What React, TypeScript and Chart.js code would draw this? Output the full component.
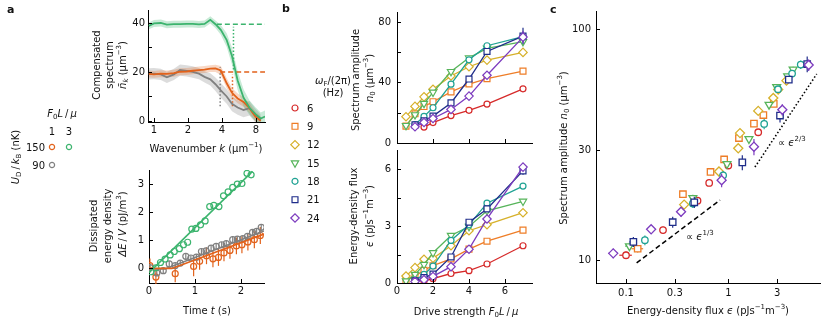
import React, { useEffect, useRef } from 'react';
import { Chart, registerables } from 'chart.js';

Chart.register(...registerables);

const FAMILY = 'DejaVu Sans';
Chart.defaults.font.family = FAMILY;
Chart.defaults.font.size = 10;
Chart.defaults.color = '#000';

const W = 830;
const H = 325;
const YAXW = 40;
const XAXH = 22;

// ---------------- Panel a (top): compensated spectrum ----------------
const kGrid = [0.9, 1.0, 1.15, 1.3, 1.5, 1.7, 1.95, 2.2, 2.5, 2.8, 3.15, 3.5, 3.9, 4.4, 4.9, 5.5, 6.2, 7.0, 7.9, 8.8, 9.6];
const specGreen = [38.8, 39.8, 40.0, 39.3, 39.5, 39.5, 39.6, 39.6, 39.4, 39.6, 41.3, 39.5, 37.2, 33.0, 26.5, 16.5, 9.5, 5.4, 2.8, 1.0, 1.8];
const specGreenErr = [1.4, 1.4, 1.4, 1.4, 1.4, 1.4, 1.4, 1.4, 1.4, 1.4, 1.5, 1.5, 2.0, 2.8, 3.5, 3.8, 3.5, 3.0, 2.8, 2.5, 2.5];
const specOrange = [19.2, 19.0, 19.3, 19.2, 19.5, 20.1, 20.2, 20.5, 20.8, 21.0, 21.4, 21.5, 20.6, 15.4, 11.5, 9.2, 7.8, 5.2, 1.8, 0.1, null];
const specOrangeErr = [1.4, 1.4, 1.4, 1.4, 1.4, 1.4, 1.4, 1.4, 1.4, 1.4, 1.4, 1.5, 1.8, 2.0, 2.0, 2.0, 2.0, 2.0, 2.0, 1.8, null];
const specGray = [19.2, 19.3, 19.0, 17.8, 19.0, 20.8, 20.5, 20.0, 19.3, 18.0, 17.0, 15.0, 12.5, 10.0, 7.0, 5.5, 4.5, 5.2, 2.2, 0.2, null];
const specGrayErr = [2.3, 2.3, 2.3, 2.3, 2.3, 2.3, 2.3, 2.3, 2.3, 2.3, 2.5, 2.8, 3.0, 3.0, 3.0, 3.0, 3.0, 3.0, 2.8, 2.5, null];
const plateauGreen = 39.5;
const plateauGreenK = [3.6, 9.6];
const plateauOrange = 20;
const plateauOrangeK = [3.85, 9.6];
const cutGreenK = 5.05;
const cutGreenRange = [21, 38.5];
const cutOrangeK = 4.95;
const cutOrangeRange = [6, 19];
const cutGrayK = 3.85;
const cutGrayRange = [6, 22];

// ---------------- Panel a (bottom): dissipated energy ----------------
const tGreen = [0.04, 0.15, 0.25, 0.35, 0.46, 0.55, 0.66, 0.75, 0.84, 0.93, 1.02, 1.12, 1.22, 1.32, 1.41, 1.52, 1.62, 1.72, 1.82, 1.92, 2.02, 2.13, 2.22];
const eGreen = [-0.12, 0.02, 0.21, 0.33, 0.48, 0.6, 0.7, 0.84, 0.93, 1.4, 1.42, 1.55, 1.69, 2.2, 2.24, 2.2, 2.58, 2.72, 2.88, 3.0, 3.02, 3.38, 3.33];
const tGray = [0.02, 0.17, 0.31, 0.44, 0.57, 0.68, 0.8, 0.91, 1.03, 1.14, 1.24, 1.35, 1.46, 1.58, 1.68, 1.82, 1.92, 2.04, 2.14, 2.25, 2.34, 2.44];
const eGray = [0.03, -0.16, -0.08, 0.16, 0.1, 0.19, 0.43, 0.37, 0.4, 0.6, 0.62, 0.72, 0.78, 0.84, 0.88, 1.02, 1.04, 1.06, 1.14, 1.28, 1.32, 1.46];
const eGrayErr = [0.1, 0.1, 0.1, 0.1, 0.1, 0.1, 0.12, 0.1, 0.1, 0.1, 0.1, 0.1, 0.1, 0.1, 0.1, 0.12, 0.1, 0.1, 0.1, 0.12, 0.1, 0.12];
const tOrange = [0.02, 0.15, 0.57, 0.97, 1.1, 1.25, 1.39, 1.51, 1.63, 1.76, 1.9, 2.02, 2.15, 2.29, 2.42];
const eOrange = [0.1, -0.31, -0.19, 0.07, 0.25, 0.45, 0.34, 0.39, 0.55, 0.64, 0.8, 0.84, 0.94, 1.02, 1.17];
const eOrangeErr = [0.25, 0.25, 0.3, 0.35, 0.3, 0.3, 0.3, 0.3, 0.3, 0.3, 0.3, 0.3, 0.3, 0.3, 0.3];
const fitGreenT = [0, 2.25];
const fitGreenE = [-0.15, 3.45];
const fitOrangeT = [0, 0.5, 2.5];
const fitOrangeE = [0, 0, 1.22];
const fitGrayT = [0, 0.35, 2.5];
const fitGrayE = [-0.02, -0.02, 1.33];

// ---------------- Panels b, c ----------------
const driveStrength = [0.5, 1, 1.5, 2, 3, 4, 5, 7];
const freqLabels = ['6', '9', '12', '15', '18', '21', '24'];
const n0_6 = [null, null, 10.5, 13.5, 18.1, 21.6, 25.7, 35.8];
const n0_9 = [11.2, 19.3, 24.1, 27.3, 33.8, 39.0, 42.5, 47.5];
const n0_12 = [17.4, 24.2, 30.5, 35.5, 44.3, 50.4, 54.8, 59.9];
const n0_15 = [11.5, 18.6, 26.1, 33.5, 47.2, 56.3, 62.6, 67.0];
const n0_18 = [null, 12.2, 17.6, 23.3, 38.9, 55.0, 64.3, 70.3];
const n0_21 = [null, 12.0, 14.6, 17.8, 26.5, 42.3, 60.5, 70.7];
const n0_24 = [null, 10.7, 13.6, 16.2, 22.2, 31.0, 44.8, 70.0];
const eps_6 = [null, null, 0.1, 0.23, 0.5, 0.65, 1.0, 1.96];
const eps_9 = [0.13, 0.36, 0.67, 0.91, 1.27, 1.78, 2.2, 2.78];
const eps_12 = [0.37, 0.81, 1.25, 1.3, 1.96, 2.75, 3.07, 3.7];
const eps_15 = [0.108, 0.45, 0.97, 1.59, 2.5, 2.97, 3.8, 4.3];
const eps_18 = [null, 0.153, 0.45, 0.89, 2.24, 3.06, 4.2, 5.1];
const eps_21 = [null, 0.118, 0.286, 0.465, 1.37, 3.2, 3.9, 5.9];
const eps_24 = [null, 0.075, 0.176, 0.345, 0.86, 1.78, 3.37, 6.1];
const n0Err_6 = [0, 0, 0.4, 0.5, 0.6, 0.7, 0.8, 1.0];
const n0Err_9 = [0.4, 0.6, 0.8, 0.8, 1.0, 1.0, 1.2, 1.2];
const n0Err_12 = [0.5, 0.7, 0.8, 1.0, 1.0, 1.2, 1.2, 1.4];
const n0Err_15 = [0.4, 0.6, 0.8, 1.0, 1.2, 1.4, 1.5, 1.8];
const n0Err_18 = [0, 0.6, 0.8, 1.0, 2.0, 2.0, 2.2, 3.0];
const n0Err_21 = [0, 0.6, 0.8, 1.0, 2.0, 2.8, 2.0, 5.5];
const n0Err_24 = [0, 0.5, 0.6, 0.8, 1.5, 2.5, 2.5, 4.0];
const epsErr_6 = [0, 0, 0.014, 0.01, 0.01, 0.02, 0.03, 0.05];
const epsErr_9 = [0.017, 0.01, 0.01, 0.02, 0.03, 0.04, 0.05, 0.06];
const epsErr_12 = [0.01, 0.02, 0.02, 0.03, 0.04, 0.05, 0.06, 0.08];
const epsErr_15 = [0.01, 0.01, 0.02, 0.03, 0.05, 0.06, 0.08, 0.1];
const epsErr_18 = [0, 0.01, 0.01, 0.02, 0.05, 0.06, 0.08, 0.12];
const epsErr_21 = [0, 0.01, 0.01, 0.02, 0.04, 0.08, 0.1, 0.2];
const epsErr_24 = [0, 0.008, 0.01, 0.02, 0.03, 0.05, 0.1, 0.2];
const law13Eps = [0.127, 0.83];
const law13N0 = [9.73, 18.2];
const law23Eps = [1.82, 7.31];
const law23N0 = [25.3, 64];

const seriesN0 = [n0_6, n0_9, n0_12, n0_15, n0_18, n0_21, n0_24];
const seriesEps = [eps_6, eps_9, eps_12, eps_15, eps_18, eps_21, eps_24];
const seriesN0Err = [n0Err_6, n0Err_9, n0Err_12, n0Err_15, n0Err_18, n0Err_21, n0Err_24];
const seriesEpsErr = [epsErr_6, epsErr_9, epsErr_12, epsErr_15, epsErr_18, epsErr_21, epsErr_24];

// ---------------- styles ----------------
const cGreen = '#3cb46e';
const cOrange = '#e2621b';
const cGray = '#808080';
const seriesColors = ['#d62a2a', '#ee7d27', '#d6b02a', '#56b45a', '#1fa293', '#1f2d8a', '#7d3cbf'];
const seriesStyles = ['circle', 'rect', 'rectRot', 'triangle', 'circle', 'rect', 'rectRot'];
const seriesRot = [0, 0, 0, 180, 0, 0, 0];
const markerR: Record<string, number> = { circle: 3, rect: 4.2, rectRot: 4.2, triangle: 4.2 };

function pad(l: number, t: number, r: number, b: number) {
  return { left: l - YAXW, top: t, right: W - r, bottom: H - b - XAXH };
}

function axis(pos: 'x' | 'y', type: string, min: number, max: number, ticks: number[], labels: Record<string, string>, padding: number) {
  return {
    type,
    min,
    max,
    bounds: 'data',
    position: pos === 'x' ? 'bottom' : 'left',
    grid: { display: false, drawTicks: false },
    border: { display: true, color: '#000', width: 1 },
    ticks: {
      color: '#111',
      font: { size: 10, family: FAMILY },
      padding,
      autoSkip: false,
      maxRotation: 0,
      minRotation: 0,
      callback: (v: any) => labels[String(v)] ?? '',
    },
    afterBuildTicks: (s: any) => {
      s.ticks = ticks.map((v) => ({ value: v }));
    },
    afterFit: (s: any) => {
      if (pos === 'x') s.height = XAXH;
      else s.width = YAXW;
    },
  };
}

const inTicks = {
  id: 'inTicks',
  afterDraw(chart: any, _a: any, opts: any) {
    const ctx = chart.ctx;
    const a = chart.chartArea;
    ctx.save();
    ctx.strokeStyle = '#000';
    ctx.lineWidth = 1;
    (opts.x || []).forEach((v: number) => {
      const px = Math.round(chart.scales.x.getPixelForValue(v)) + 0.5;
      ctx.beginPath();
      ctx.moveTo(px, a.bottom);
      ctx.lineTo(px, a.bottom - 4);
      ctx.stroke();
    });
    (opts.y || []).forEach((v: number) => {
      const py = Math.round(chart.scales.y.getPixelForValue(v)) + 0.5;
      ctx.beginPath();
      ctx.moveTo(a.left, py);
      ctx.lineTo(a.left + 4, py);
      ctx.stroke();
    });
    ctx.restore();
  },
};

const errBars = {
  id: 'errBars',
  beforeDatasetDraw(chart: any, args: any) {
    const ds = chart.data.datasets[args.index];
    if (!ds.errBars) return;
    const xs = chart.scales[args.meta.xAxisID];
    const ys = chart.scales[args.meta.yAxisID];
    const ctx = chart.ctx;
    ctx.save();
    ctx.strokeStyle = ds.errColor || ds.borderColor;
    ctx.lineWidth = 1.2;
    ds.data.forEach((p: any) => {
      const px = xs.getPixelForValue(p.x);
      const py = ys.getPixelForValue(p.y);
      if (p.ey) {
        ctx.beginPath();
        ctx.moveTo(px, ys.getPixelForValue(p.y - p.ey));
        ctx.lineTo(px, ys.getPixelForValue(p.y + p.ey));
        ctx.stroke();
      }
      if (p.ex) {
        ctx.beginPath();
        ctx.moveTo(xs.getPixelForValue(p.x - p.ex), py);
        ctx.lineTo(xs.getPixelForValue(p.x + p.ex), py);
        ctx.stroke();
      }
    });
    ctx.restore();
  },
};

type Seg = { t: string; i?: boolean; sup?: boolean; sub?: boolean; b?: boolean };
const R = (t: string): Seg => ({ t });
const I = (t: string): Seg => ({ t, i: true });
const SUP = (t: string): Seg => ({ t, sup: true });
const SUB = (t: string): Seg => ({ t, sub: true });
const TS = '\u2009';

function drawRich(ctx: any, segs: Seg[], x: number, y: number, size: number, align: string, rot: boolean) {
  ctx.save();
  ctx.translate(x, y);
  if (rot) ctx.rotate(-Math.PI / 2);
  const fonts = segs.map((s) => `${s.i ? 'italic ' : ''}${s.b ? 'bold ' : ''}${s.sup || s.sub ? size * 0.7 : size}px "${FAMILY}"`);
  const widths = segs.map((s, k) => {
    ctx.font = fonts[k];
    return ctx.measureText(s.t).width;
  });
  const total = widths.reduce((a, b) => a + b, 0);
  let cx = align === 'left' ? 0 : align === 'right' ? -total : -total / 2;
  ctx.fillStyle = '#111';
  ctx.textAlign = 'left';
  ctx.textBaseline = 'alphabetic';
  const base = size * 0.36;
  segs.forEach((s, k) => {
    ctx.font = fonts[k];
    const dy = s.sup ? -size * 0.42 : s.sub ? size * 0.22 : 0;
    ctx.fillText(s.t, cx, base + dy);
    cx += widths[k];
  });
  ctx.restore();
}

function drawMarker(ctx: any, style: string, x: number, y: number, r: number, color: string, rotDeg: number, fill: string) {
  ctx.save();
  ctx.translate(x, y);
  ctx.rotate((rotDeg * Math.PI) / 180);
  ctx.beginPath();
  if (style === 'circle') ctx.arc(0, 0, r, 0, Math.PI * 2);
  else if (style === 'rect') {
    const s = r * Math.SQRT1_2;
    ctx.rect(-s, -s, 2 * s, 2 * s);
  } else if (style === 'rectRot') {
    ctx.moveTo(-r, 0);
    ctx.lineTo(0, -r);
    ctx.lineTo(r, 0);
    ctx.lineTo(0, r);
    ctx.closePath();
  } else if (style === 'triangle') {
    for (let k = 0; k < 3; k++) {
      const a = (k * 2 * Math.PI) / 3;
      const px = Math.sin(a) * r;
      const py = -Math.cos(a) * r;
      if (k === 0) ctx.moveTo(px, py);
      else ctx.lineTo(px, py);
    }
    ctx.closePath();
  }
  ctx.fillStyle = fill;
  ctx.fill();
  ctx.strokeStyle = color;
  ctx.lineWidth = 1.2;
  ctx.stroke();
  ctx.restore();
}

const legendY = [108, 126.3, 144.7, 163, 181.3, 199.7, 218];

const TEXTS: { s: Seg[]; x: number; y: number; a?: string; rot?: boolean; size?: number }[] = [
  { s: [{ t: 'a', b: true }], x: 7, y: 9, a: 'left', size: 11 },
  { s: [{ t: 'b', b: true }], x: 282, y: 8, a: 'left', size: 11 },
  { s: [{ t: 'c', b: true }], x: 550, y: 9, a: 'left', size: 11 },
  { s: [R('Compensated')], x: 96, y: 65, rot: true },
  { s: [R('spectrum')], x: 109, y: 65, rot: true },
  { s: [I('n\u0304'), { t: 'k', i: true, sub: true }, R(' (μm'), SUP('−3'), R(')')], x: 122, y: 65, rot: true },
  { s: [R('Wavenumber '), I('k'), R(' (μm'), SUP('−1'), R(')')], x: 206, y: 148 },
  { s: [R('Dissipated')], x: 93, y: 226, rot: true },
  { s: [R('energy density')], x: 107, y: 226, rot: true },
  { s: [I('ΔE'), R(TS + '/' + TS), I('V'), R(' (pJ/m'), SUP('3'), R(')')], x: 122, y: 224, rot: true },
  { s: [R('Time '), I('t'), R(' (s)')], x: 207, y: 310 },
  { s: [I('F'), SUB('0'), I('L'), R(TS + '/' + TS), I('μ')], x: 62, y: 113 },
  { s: [R('1')], x: 52, y: 131 },
  { s: [R('3')], x: 69, y: 131 },
  { s: [R('150')], x: 45, y: 147, a: 'right' },
  { s: [R('90')], x: 45, y: 165, a: 'right' },
  { s: [I('U'), SUB('D'), R(TS + '/' + TS), I('k'), SUB('B'), R(' (nK)')], x: 15, y: 157, rot: true },
  { s: [I('ω'), SUB('F'), R('/(2π)')], x: 333, y: 80 },
  { s: [R('(Hz)')], x: 333, y: 92 },
  { s: [R('Spectrum amplitude')], x: 355, y: 80, rot: true },
  { s: [I('n'), SUB('0'), R(' (μm'), SUP('−3'), R(')')], x: 369, y: 78, rot: true },
  { s: [R('Energy-density flux')], x: 353, y: 216, rot: true },
  { s: [I('ϵ'), R(' (pJs'), SUP('−1'), R('m'), SUP('−3'), R(')')], x: 369, y: 216, rot: true },
  { s: [R('Drive strength '), I('F'), SUB('0'), I('L'), R(TS + '/' + TS), I('μ')], x: 466, y: 311 },
  { s: [R('Spectrum amplitude '), I('n'), SUB('0'), R(' (μm'), SUP('−3'), R(')')], x: 563, y: 148, rot: true },
  { s: [R('Energy-density flux '), I('ϵ'), R(' (pJs'), SUP('−1'), R('m'), SUP('−3'), R(')')], x: 708, y: 310 },
  { s: [R('∝ '), I('ϵ'), SUP('1/3')], x: 686, y: 236, a: 'left' },
  { s: [R('∝ '), I('ϵ'), SUP('2/3')], x: 778, y: 142, a: 'left' },
];

const overlay = {
  id: 'overlay',
  afterDraw(chart: any) {
    const ctx = chart.ctx;
    TEXTS.forEach((t) => drawRich(ctx, t.s, t.x, t.y, t.size || 10, t.a || 'center', !!t.rot));
    freqLabels.forEach((lab, s) => {
      drawRich(ctx, [R(lab)], 307, legendY[s], 10, 'left', false);
      drawMarker(ctx, seriesStyles[s], 295, legendY[s], markerR[seriesStyles[s]], seriesColors[s], seriesRot[s], '#fff');
    });
    drawMarker(ctx, 'circle', 52, 147, 2.6, cOrange, 0, '#fff');
    drawMarker(ctx, 'circle', 69, 147, 2.6, cGreen, 0, '#fff');
    drawMarker(ctx, 'circle', 52, 165, 2.6, cGray, 0, '#fff');
  },
};

const xy = (xs: number[], ys: (number | null)[]) =>
  xs.map((x, i) => (ys[i] == null ? null : { x, y: ys[i] as number })).filter(Boolean) as any[];
const band = (xs: number[], ys: (number | null)[], es: (number | null)[], sign: number) =>
  xs.map((x, i) => (ys[i] == null ? null : { x, y: (ys[i] as number) + sign * (es[i] as number) })).filter(Boolean) as any[];

function line(data: any[], color: string, width: number, dash: number[] = []) {
  return { data, borderColor: color, borderWidth: width, borderDash: dash, pointRadius: 0, fill: false, tension: 0 };
}

function common(area: number[], scales: any, ticksOpt: any) {
  return {
    responsive: false,
    animation: false,
    events: [],
    layout: { padding: pad(area[0], area[1], area[2], area[3]) },
    scales,
    plugins: { legend: { display: false }, tooltip: { enabled: false }, inTicks: ticksOpt },
  };
}

function cfgA1(): any {
  const datasets: any[] = [
    line(xy(kGrid, specGreen), cGreen, 1.8),
    line(xy(kGrid, specOrange), cOrange, 1.8),
    line(xy(kGrid, specGray), cGray, 1.8),
    line(plateauGreenK.map((k) => ({ x: k, y: plateauGreen })), cGreen, 1.5, [5, 3]),
    line(plateauOrangeK.map((k) => ({ x: k, y: plateauOrange })), cOrange, 1.5, [5, 3]),
    line(cutGreenRange.map((v) => ({ x: cutGreenK, y: v })), cGreen, 1.5, [1.5, 2]),
    line(cutOrangeRange.map((v) => ({ x: cutOrangeK, y: v })), cOrange, 1.5, [1.5, 2]),
    line(cutGrayRange.map((v) => ({ x: cutGrayK, y: v })), cGray, 1.5, [1.5, 2]),
    { ...line(band(kGrid, specGreen, specGreenErr, 1), cGreen, 0), fill: 9, backgroundColor: 'rgba(60,180,110,0.28)' },
    line(band(kGrid, specGreen, specGreenErr, -1), cGreen, 0),
    { ...line(band(kGrid, specOrange, specOrangeErr, 1), cOrange, 0), fill: 11, backgroundColor: 'rgba(226,98,27,0.25)' },
    line(band(kGrid, specOrange, specOrangeErr, -1), cOrange, 0),
    { ...line(band(kGrid, specGray, specGrayErr, 1), cGray, 0), fill: 13, backgroundColor: 'rgba(128,128,128,0.28)' },
    line(band(kGrid, specGray, specGrayErr, -1), cGray, 0),
  ];
  return {
    type: 'line',
    data: { datasets },
    options: common(
      [148, 10, 265, 122],
      {
        x: axis('x', 'logarithmic', 0.885, 9.6, [1, 2, 4, 8], { '1': '1', '2': '2', '4': '4', '8': '8' }, 2),
        y: axis('y', 'linear', -0.41, 45.3, [0, 10, 20, 30, 40], { '0': '0', '20': '20', '40': '40' }, 3),
      },
      { x: [1, 2, 4, 8], y: [0, 10, 20, 30, 40] }
    ),
    plugins: [inTicks],
  };
}

function scatterDs(data: any[], color: string, r: number) {
  return {
    data,
    showLine: false,
    borderColor: color,
    pointStyle: 'circle',
    pointRadius: r,
    pointBorderWidth: 1.2,
    pointBorderColor: color,
    pointBackgroundColor: 'rgba(255,255,255,0)',
    errBars: true,
  };
}

function cfgA2(): any {
  const datasets: any[] = [
    line(xy(fitGreenT, fitGreenE), cGreen, 1.6),
    line(xy(fitOrangeT, fitOrangeE), cOrange, 1.6),
    line(xy(fitGrayT, fitGrayE), cGray, 1.6),
    scatterDs(xy(tGreen, eGreen), cGreen, 3),
    scatterDs(tGray.map((t, i) => ({ x: t, y: eGray[i], ey: eGrayErr[i] })), cGray, 3),
    scatterDs(tOrange.map((t, i) => ({ x: t, y: eOrange[i], ey: eOrangeErr[i] })), cOrange, 3),
  ];
  return {
    type: 'line',
    data: { datasets },
    options: common(
      [149, 170, 264, 283],
      {
        x: axis('x', 'linear', 0, 2.5, [0, 1, 2], { '0': '0', '1': '1', '2': '2' }, 2),
        y: axis('y', 'linear', -0.52, 3.5, [0, 1, 2, 3], { '0': '0', '1': '1', '2': '2', '3': '3' }, 5),
      },
      { x: [0, 1, 2], y: [0, 1, 2, 3] }
    ),
    plugins: [inTicks, errBars],
  };
}

function bDatasets(vals: (number | null)[][], errs: number[][]) {
  const out: any[] = [];
  for (let s = vals.length - 1; s >= 0; s--) {
    const data: any[] = [];
    driveStrength.forEach((x, i) => {
      const y = vals[s][i];
      if (y != null) data.push({ x, y, ey: errs[s][i] });
    });
    const st = seriesStyles[s];
    out.push({
      data,
      borderColor: seriesColors[s],
      borderWidth: 1.3,
      pointStyle: st,
      pointRotation: seriesRot[s],
      pointRadius: markerR[st],
      pointBorderWidth: 1.2,
      pointBorderColor: seriesColors[s],
      pointBackgroundColor: '#fff',
      fill: false,
      tension: 0,
      errBars: true,
    });
  }
  return out;
}

function cfgB1(): any {
  const errsVisible = seriesN0Err.map((arr) => arr.map((e) => (e >= 3 ? e : 0)));
  return {
    type: 'line',
    data: { datasets: bDatasets(seriesN0, errsVisible) },
    options: common(
      [397, 7, 532, 143],
      {
        x: axis('x', 'linear', 0, 7.5, [0, 2, 4, 6], {}, 2),
        y: axis('y', 'linear', 0, 86.6, [0, 20, 40, 60, 80], { '0': '0', '40': '40', '80': '80' }, 6),
      },
      { x: [2, 4, 6], y: [0, 20, 40, 60, 80] }
    ),
    plugins: [inTicks, errBars],
  };
}

function cfgB2(): any {
  const errsVisible = seriesEpsErr.map((arr) => arr.map((e) => (e >= 0.15 ? e : 0)));
  return {
    type: 'line',
    data: { datasets: bDatasets(seriesEps, errsVisible) },
    options: common(
      [397, 150, 532, 283],
      {
        x: axis('x', 'linear', 0, 7.5, [0, 2, 4, 6], { '0': '0', '2': '2', '4': '4', '6': '6' }, 2),
        y: axis('y', 'linear', 0, 7, [0, 1.5, 3, 4.5, 6], { '0': '0', '3': '3', '6': '6' }, 6),
      },
      { x: [0, 2, 4, 6], y: [0, 1.5, 3, 4.5, 6] }
    ),
    plugins: [inTicks, errBars],
  };
}

function cfgC(): any {
  const datasets: any[] = [];
  for (let s = seriesN0.length - 1; s >= 0; s--) {
    const data: any[] = [];
    driveStrength.forEach((_d, i) => {
      const e = seriesEps[s][i];
      const n = seriesN0[s][i];
      if (e != null && n != null) data.push({ x: e, y: n, ex: seriesEpsErr[s][i], ey: seriesN0Err[s][i] });
    });
    const st = seriesStyles[s];
    datasets.push({
      data,
      showLine: false,
      borderColor: seriesColors[s],
      pointStyle: st,
      pointRotation: seriesRot[s],
      pointRadius: markerR[st] * 1.08,
      pointBorderWidth: 1.3,
      pointBorderColor: seriesColors[s],
      pointBackgroundColor: '#fff',
      errBars: true,
    });
  }
  datasets.push(line(xy(law13Eps, law13N0), '#000', 1.5, [5, 3]));
  datasets.push(line(xy(law23Eps, law23N0), '#000', 1.6, [1.5, 2.2]));
  return {
    type: 'line',
    data: { datasets },
    options: common(
      [596, 10, 820, 283],
      {
        x: axis('x', 'logarithmic', 0.0509, 7.87, [0.1, 0.3, 1, 3], { '0.1': '0.1', '0.3': '0.3', '1': '1', '3': '3' }, 4),
        y: axis('y', 'logarithmic', 7.96, 120, [10, 30, 100], { '10': '10', '30': '30', '100': '100' }, 5),
      },
      { x: [0.1, 0.3, 1, 3], y: [10, 30, 100] }
    ),
    plugins: [inTicks, errBars, overlay],
  };
}

export default function App() {
  const r1 = useRef<HTMLCanvasElement>(null);
  const r2 = useRef<HTMLCanvasElement>(null);
  const r3 = useRef<HTMLCanvasElement>(null);
  const r4 = useRef<HTMLCanvasElement>(null);
  const r5 = useRef<HTMLCanvasElement>(null);
  const refs = [r1, r2, r3, r4, r5];

  useEffect(() => {
    const cfgs = [cfgA1(), cfgA2(), cfgB1(), cfgB2(), cfgC()];
    const charts = cfgs.map((c, i) => new Chart(refs[i].current as HTMLCanvasElement, c));
    return () => charts.forEach((c) => c.destroy());
  }, []);

  return (
    <div style={{ position: 'fixed', left: 0, top: 0, width: W, height: H, background: '#fff' }}>
      {refs.map((r, i) => (
        <canvas key={i} ref={r} width={W} height={H} style={{ position: 'absolute', left: 0, top: 0, width: W, height: H }} />
      ))}
    </div>
  );
}
